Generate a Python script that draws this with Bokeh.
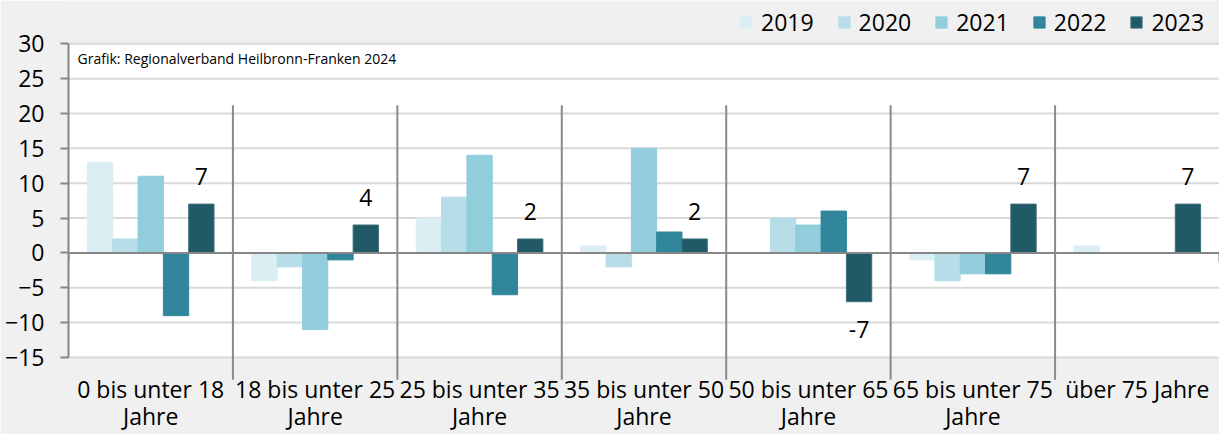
from bokeh.plotting import figure
from bokeh.models import Range1d, FixedTicker, Legend, LegendItem
from bokeh.core.properties import value
from bokeh.embed import file_html
from bokeh.resources import INLINE

# ---- data ----
categories = ["0 bis unter 18\nJahre", "18 bis unter 25\nJahre", "25 bis unter 35\nJahre",
              "35 bis unter 50\nJahre", "50 bis unter 65\nJahre", "65 bis unter 75\nJahre",
              "über 75 Jahre"]
years = ["2019", "2020", "2021", "2022", "2023"]
v2019 = [13, -4, 5, 1, 0, -1, 1]
v2020 = [2, -2, 8, -2, 5, -4, 0]
v2021 = [11, -11, 14, 15, 4, -3, 0]
v2022 = [-9, -1, -6, 3, 6, -3, 0]
v2023 = [7, 4, 2, 2, -7, 7, 7]
y_ticks = [-15, -10, -5, 0, 5, 10, 15, 20, 25, 30]
source_note = "Grafik: Regionalverband Heilbronn-Franken 2024"

series = [v2019, v2020, v2021, v2022, v2023]
colors = ["#DAEEF3", "#B7DEE8", "#92CDDC", "#31869B", "#215967"]

FONT = "Open Sans"
n = len(categories)
centers = [i + 0.5 for i in range(n)]

p = figure(width=1219, height=434, output_backend="svg", toolbar_location=None,
           x_range=Range1d(0, n), y_range=Range1d(-26.05, 36.21),
           x_axis_location=None, min_border_left=68, min_border_right=0,
           min_border_top=0, min_border_bottom=0)
p.outline_line_color = None
p.background_fill_color = "#F0F0F0"
p.border_fill_color = "#F0F0F0"
p.xgrid.visible = False
p.ygrid.visible = False

# white plot area
p.quad(left=[0], right=[n], bottom=[y_ticks[0]], top=[y_ticks[-1]],
       fill_color="white", line_color=None)

# gridlines
p.segment(x0=[0] * len(y_ticks), x1=[n] * len(y_ticks), y0=y_ticks, y1=y_ticks,
          line_color="#D9D9D9", line_width=2)

# bars
bw = 0.154
renderers = []
for k, (vals, col) in enumerate(zip(series, colors)):
    xs = [c + (k - 2) * bw for c in centers]
    r = p.vbar(x=xs, top=vals, bottom=0, width=bw, fill_color=col,
               line_color=col if k < 4 else "#3E6E7B", line_width=1)
    renderers.append(r)

# zero line
p.segment(x0=[0], x1=[n], y0=[0], y1=[0], line_color="#868686", line_width=2)

# category separators and edge ticks
bounds = list(range(1, n))
p.segment(x0=bounds, x1=bounds, y0=[21.2] * len(bounds), y1=[-18.2] * len(bounds),
          line_color="#8A8A8A", line_width=2)
edges = [0, n]
p.segment(x0=edges, x1=edges, y0=[0, 0], y1=[-1.3, -1.3],
          line_color="#868686", line_width=2)

# data labels for 2023
lab_x = [c + 2 * bw for c in centers]
lab_y = [v + 4 if v >= 0 else v - 4 for v in v2023]
p.text(x=lab_x, y=lab_y, text=[str(v) for v in v2023], text_font=value(FONT),
       text_font_size="23px", text_align="center", text_baseline="middle",
       text_color="black")

# category labels (two lines)
line1 = [c.split("\n")[0] for c in categories]
l2_x = [x for x, c in zip(centers, categories) if "\n" in c]
l2_t = [c.split("\n")[1] for c in categories if "\n" in c]
p.text(x=centers, y=[-19.5] * n, text=line1, text_font=value(FONT),
       text_font_size="23px", text_align="center", text_baseline="alphabetic",
       text_color="black")
p.text(x=l2_x, y=[-23.45] * len(l2_x), text=l2_t, text_font=value(FONT),
       text_font_size="23px", text_align="center", text_baseline="alphabetic",
       text_color="black")

# source note
p.text(x=[0.055], y=[27.9], text=[source_note], text_font=value(FONT),
       text_font_size="14px", text_align="left", text_baseline="middle",
       text_color="black")

# y axis
ax = p.yaxis[0]
ax.ticker = FixedTicker(ticks=y_ticks)
ax.bounds = (y_ticks[0], y_ticks[-1])
ax.axis_line_color = "#868686"
ax.axis_line_width = 2
ax.major_tick_line_color = "#868686"
ax.major_tick_line_width = 2
ax.major_tick_out = 8
ax.major_tick_in = 0
ax.minor_tick_line_color = None
ax.major_label_standoff = 16
ax.major_label_text_font = FONT
ax.major_label_text_font_size = "23px"
ax.major_label_text_color = "black"

# legend
items = [LegendItem(label=y, renderers=[r]) for y, r in zip(years, renderers)]
legend = Legend(items=items, orientation="horizontal", location=(671, 396),
                glyph_width=14, glyph_height=14, label_standoff=8, spacing=23,
                padding=0, margin=0, border_line_color=None,
                background_fill_alpha=0, label_text_font=FONT,
                label_text_font_size="23px", label_text_color="black")
p.add_layout(legend, "center")

open("out.html", "w").write(file_html(p, INLINE))
